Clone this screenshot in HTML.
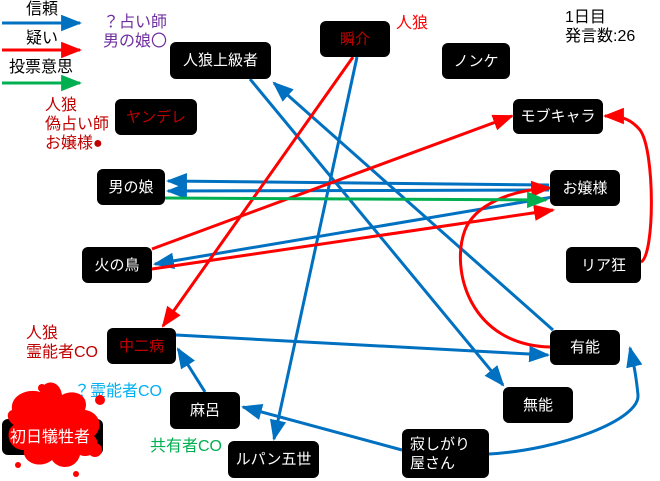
<!DOCTYPE html>
<html><head><meta charset="utf-8"><style>
body{margin:0;background:#fff;width:660px;height:481px;overflow:hidden;position:relative;font-family:"Liberation Sans","Noto Sans CJK JP",sans-serif}
.n{position:absolute;background:#000;border-radius:6px;color:#fff;font-size:15px;display:flex;align-items:center;justify-content:center;line-height:19px}
.t{position:absolute;font-size:15px;line-height:19px;white-space:nowrap}
svg{position:absolute;left:0;top:0}
</style></head><body>
<svg width="660" height="481" style="z-index:0">
<defs>
<marker id="b" viewBox="0 0 10 10" refX="9" refY="5" markerWidth="7" markerHeight="5.5" orient="auto" markerUnits="strokeWidth" preserveAspectRatio="none"><path d="M0,0L10,5L0,10z" fill="#0070c0"/></marker>
<marker id="r" viewBox="0 0 10 10" refX="9" refY="5" markerWidth="7" markerHeight="5.5" orient="auto" markerUnits="strokeWidth" preserveAspectRatio="none"><path d="M0,0L10,5L0,10z" fill="#ff0000"/></marker>
<marker id="g" viewBox="0 0 10 10" refX="9" refY="5" markerWidth="7" markerHeight="5.5" orient="auto" markerUnits="strokeWidth" preserveAspectRatio="none"><path d="M0,0L10,5L0,10z" fill="#00b050"/></marker>
</defs>
<g stroke-width="3" fill="none">
<line x1="2" y1="23" x2="80" y2="23" stroke="#0070c0" marker-end="url(#b)"/>
<line x1="2" y1="50" x2="80" y2="50" stroke="#f00" marker-end="url(#r)"/>
<line x1="2" y1="83" x2="80" y2="83" stroke="#00b050" marker-end="url(#g)"/>
<line x1="357" y1="57" x2="274" y2="439" stroke="#0070c0" marker-end="url(#b)"/>
<line x1="549" y1="185" x2="168" y2="181" stroke="#0070c0" marker-end="url(#b)"/>
<line x1="549" y1="190" x2="168" y2="191" stroke="#0070c0" marker-end="url(#b)"/>
<line x1="553" y1="197" x2="155" y2="264" stroke="#0070c0" marker-end="url(#b)"/>
<line x1="553" y1="330" x2="274" y2="83" stroke="#0070c0" marker-end="url(#b)"/>
<line x1="250" y1="79" x2="503" y2="385" stroke="#0070c0" marker-end="url(#b)"/>
<line x1="176" y1="335" x2="548" y2="355" stroke="#0070c0" marker-end="url(#b)"/>
<line x1="205" y1="392" x2="178" y2="349" stroke="#0070c0" marker-end="url(#b)"/>
<line x1="402" y1="450" x2="243" y2="407" stroke="#0070c0" marker-end="url(#b)"/>
<path d="M489,454 C560,450 640,420 638,395 C636,375 634,365 630,348" stroke="#0070c0" marker-end="url(#b)"/>
<line x1="353" y1="57" x2="163" y2="326" stroke="#f00" marker-end="url(#r)"/>
<line x1="152" y1="249" x2="512" y2="116" stroke="#f00" marker-end="url(#r)"/>
<line x1="152" y1="269" x2="553" y2="210" stroke="#f00" marker-end="url(#r)"/>
<path d="M550,347 C470,345 450,270 465,230 C475,205 510,190 550,188" stroke="#f00" marker-end="url(#r)"/>
<path d="M641,262 C655,255 655,150 640,130 C630,118 620,116 605,116" stroke="#f00" marker-end="url(#r)"/>
<line x1="165" y1="198" x2="546" y2="200" stroke="#00b050" marker-end="url(#g)"/>
</g>
</svg>
<div class="t" style="left:26px;top:0px;color:#000;font-size:16px">信頼</div>
<div class="t" style="left:26px;top:29px;color:#000;font-size:16px">疑い</div>
<div class="t" style="left:9px;top:58px;color:#000;font-size:16px">投票意思</div>
<div class="t" style="left:103px;top:13px;color:#7030a0;font-size:16px">？占い師<br>男の娘〇</div>
<div class="t" style="left:45px;top:96px;color:#c00000;font-size:16px">人狼<br>偽占い師<br>お嬢様●</div>
<div class="t" style="left:396px;top:14px;color:#f00;font-size:16px">人狼</div>
<div class="t" style="left:565px;top:8px;color:#000;font-size:16px">1日目<br>発言数:26</div>
<div class="t" style="left:26px;top:324px;color:#c00000;font-size:16px">人狼<br>霊能者CO</div>
<div class="t" style="left:74px;top:382px;color:#00b0f0;font-size:16px">？霊能者CO</div>
<div class="t" style="left:150px;top:437px;color:#00b050;font-size:16px">共有者CO</div>

<div class="n" style="left:170px;top:42px;width:101px;height:37px">人狼上級者</div>
<div class="n" style="left:320px;top:21px;width:70px;height:36px;color:#c00000">瞬介</div>
<div class="n" style="left:442px;top:43px;width:68px;height:36px">ノンケ</div>
<div class="n" style="left:115px;top:99px;width:82px;height:36px;color:#c00000">ヤンデレ</div>
<div class="n" style="left:513px;top:99px;width:90px;height:35px">モブキャラ</div>
<div class="n" style="left:97px;top:169px;width:68px;height:36px">男の娘</div>
<div class="n" style="left:550px;top:170px;width:70px;height:36px">お嬢様</div>
<div class="n" style="left:82px;top:247px;width:70px;height:36px">火の鳥</div>
<div class="n" style="left:566px;top:247px;width:75px;height:36px">リア狂</div>
<div class="n" style="left:107px;top:328px;width:69px;height:36px;color:#c00000">中二病</div>
<div class="n" style="left:550px;top:330px;width:70px;height:35px">有能</div>
<div class="n" style="left:170px;top:392px;width:70px;height:37px">麻呂</div>
<div class="n" style="left:503px;top:387px;width:70px;height:36px">無能</div>
<div class="n" style="left:228px;top:441px;width:91px;height:37px">ルパン五世</div>
<div class="n" style="left:402px;top:429px;width:87px;height:49px;justify-content:flex-start;padding-left:8px;box-sizing:border-box">寂しがり<br>屋さん</div>
<div class="n" style="left:2px;top:419px;width:101px;height:36px"></div>
<svg width="660" height="481" style="z-index:1">
<g fill="#f00">
<path d="M12,410 C10,395 28,388 40,392 C44,378 60,380 62,395 C75,388 90,396 85,410 C100,412 104,428 94,436 C104,446 92,460 80,455 C76,470 58,470 52,460 C40,470 22,462 24,450 C8,450 4,430 14,425 C6,420 6,412 12,410z"/>
<circle cx="42" cy="388" r="4"/><circle cx="72" cy="398" r="4"/><circle cx="100" cy="400" r="5"/>
<circle cx="55" cy="390" r="2"/><circle cx="95" cy="450" r="7"/><circle cx="76" cy="474" r="3"/><circle cx="18" cy="465" r="3"/>
</g>
</svg>
<div class="t" style="left:10px;top:428px;color:#fff;font-size:16px;z-index:2">初日犠牲者</div>
</body></html>
